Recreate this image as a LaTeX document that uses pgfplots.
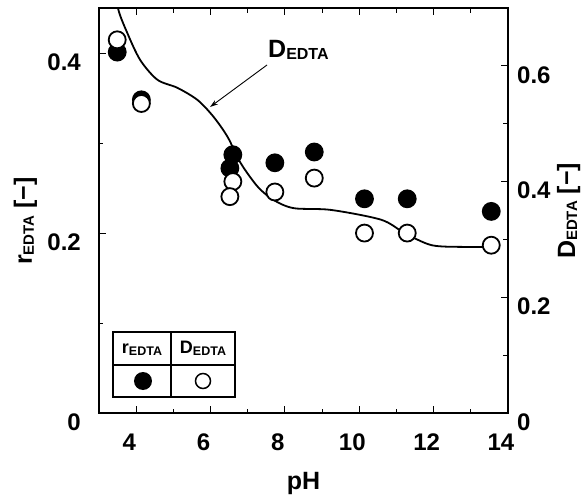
\documentclass[border=0pt]{standalone}
\usepackage{fontspec}
\setmainfont{Liberation Sans}
\usepackage{pgfplots}
\pgfplotsset{compat=1.18}
\usetikzlibrary{arrows.meta}
\newcommand{\sub}[2][15]{\raisebox{-2pt}{\fontsize{#1}{#1}\selectfont #2}}

\pgfplotsset{
  common/.style={at={(0pt,0pt)},anchor=south west,scale only axis,
    width=409pt,height=405pt,xmin=3,xmax=14,
    tick align=inside,major tick length=7pt,minor tick length=4.5pt,
    every tick/.style={black,line width=1pt},
    axis line style={line width=2.5pt},
    tick label style={font=\fontsize{24}{24}\selectfont\bfseries,inner sep=0pt},
    /pgf/number format/assume math mode=true,
    label style={font=\fontsize{25}{25}\selectfont\bfseries,inner sep=0pt}}
}

\begin{document}
\begin{tikzpicture}
\path[use as bounding box] (-99pt,-86pt) rectangle (483pt,413pt);

% left axis: r_EDTA
\begin{axis}[common,ymin=0,ymax=0.45,
    xtick={4,6,8,10,12,14},minor xtick={5,7,9,11,13},
    ytick={0,0.2,0.4},minor ytick={0.1,0.3},
    xtick pos=both,ytick pos=left,xticklabel pos=lower,
    yticklabel style={anchor=east,xshift=-18pt,yshift=-9pt,/pgf/number format/fixed},
    xticklabel style={anchor=center,xshift=-7pt,yshift=-29pt},
    xlabel={pH},xlabel style={at={(axis description cs:0.5,-0.190)},anchor=base},
    ylabel={r\sub{EDTA} [−]},ylabel style={at={(axis description cs:-0.164,0.474)},anchor=base}]
\addplot[only marks,mark=*,mark size=8.5pt,line width=1.8pt,mark options={fill=black,draw=black}]
  coordinates {(3.49,0.401)(4.14,0.348)(6.60,0.287)(6.52,0.272)(7.73,0.278)
               (8.79,0.290)(10.14,0.238)(11.29,0.238)(13.55,0.224)};
\end{axis}

% right axis: D_EDTA
\begin{axis}[common,ymin=0,ymax=0.7,
    xtick=\empty,
    ytick={0,0.2,0.4,0.6},minor ytick={0.1,0.3,0.5},
    ytick pos=right,yticklabel pos=right,
    yticklabel style={anchor=west,xshift=9pt,yshift=-9pt,/pgf/number format/fixed},
    ylabel={D\sub{EDTA} [−]},ylabel style={at={(axis description cs:1.164,0.499)},anchor=base}]
\addplot[black,line width=1.8pt,smooth,tension=0.5] coordinates {
  (3.45,0.75)(3.51,0.70)(3.76,0.657)(4.11,0.610)(4.57,0.576)(5.11,0.562)
  (5.65,0.541)(6.08,0.512)(6.46,0.477)(6.81,0.432)(7.27,0.391)(7.70,0.368)
  (8.24,0.354)(9.24,0.351)(10.59,0.334)(11.22,0.311)(11.95,0.290)
  (12.84,0.287)(13.65,0.287)};
\addplot[only marks,mark=*,mark size=8.5pt,line width=1.8pt,mark options={fill=white,draw=black}]
  coordinates {(3.49,0.645)(4.14,0.535)(6.60,0.400)(6.52,0.374)(7.73,0.382)
               (8.79,0.406)(10.14,0.311)(11.29,0.311)(13.55,0.290)};
\end{axis}

% annotation of the model curve
\node[anchor=base west,inner sep=0pt,font=\fontsize{25}{25}\selectfont\bfseries]
  at (169pt,355pt) {D\sub[16]{EDTA}};
\draw[-{Stealth[length=8pt,width=5pt]},line width=0.9pt] (168pt,348pt) -- (111pt,306pt);

% legend table
\draw[line width=1.5pt] (14pt,16pt) rectangle (136pt,81pt);
\draw[line width=1.3pt] (72pt,16pt) -- (72pt,81pt);
\draw[line width=1.3pt] (14pt,48pt) -- (136pt,48pt);
\node[anchor=base,inner sep=0pt,font=\fontsize{18}{18}\selectfont\bfseries]
  at (43pt,60pt) {r\sub[12.5]{EDTA}};
\node[anchor=base,inner sep=0pt,font=\fontsize{18}{18}\selectfont\bfseries]
  at (104pt,60pt) {D\sub[12.5]{EDTA}};
\node[circle,fill=black,inner sep=0pt,minimum size=18pt] at (44pt,32pt) {};
\node[circle,draw=black,fill=white,line width=1.5pt,inner sep=0pt,minimum size=15pt] at (104pt,32pt) {};
\end{tikzpicture}
\end{document}
